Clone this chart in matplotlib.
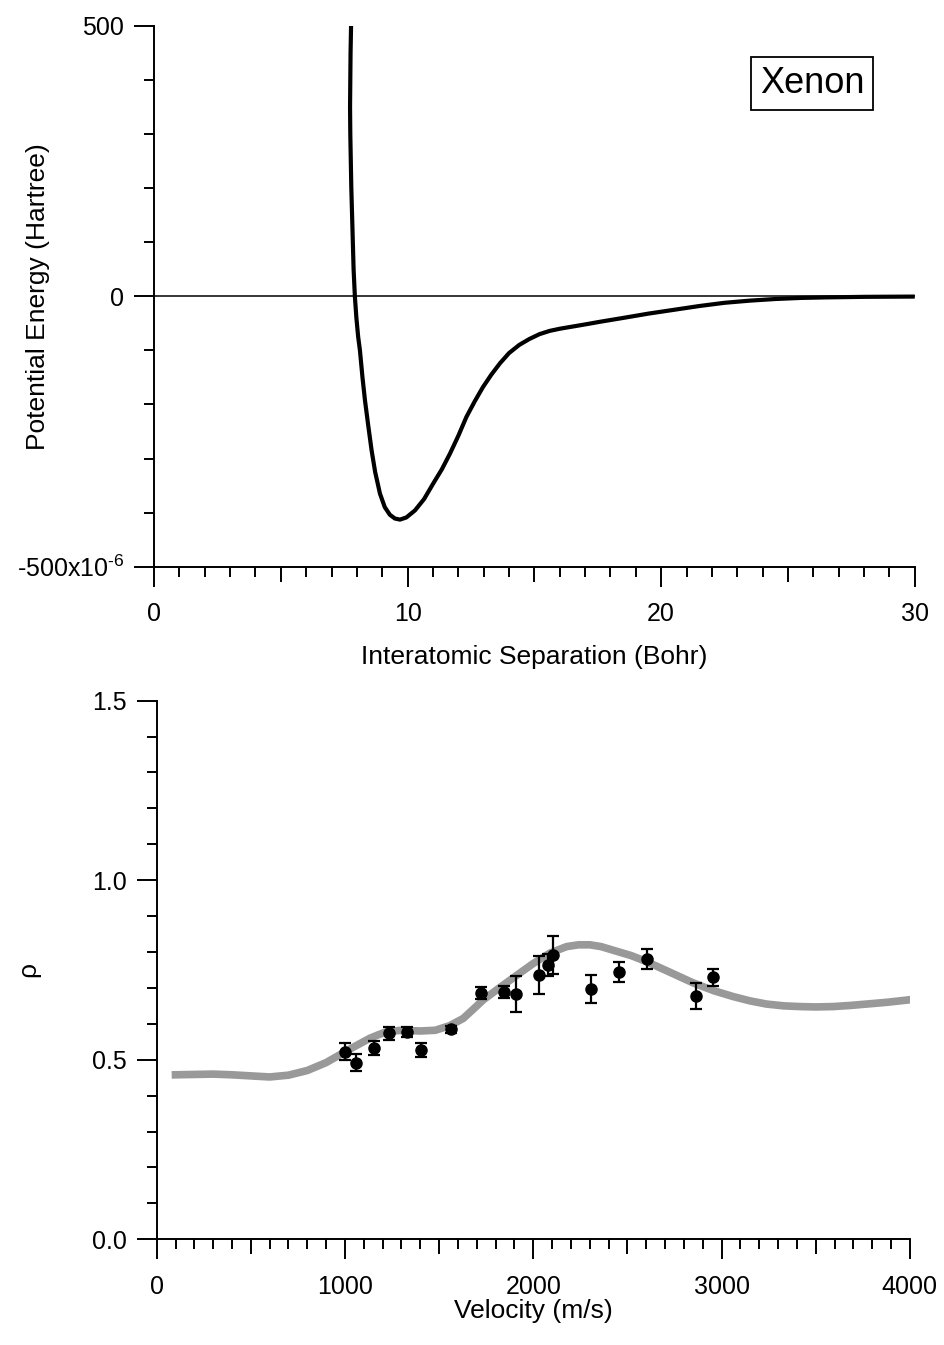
import matplotlib.pyplot as plt
import numpy as np

plt.rcParams['font.family'] = ['Liberation Sans', 'DejaVu Sans']
plt.rcParams['mathtext.fontset'] = 'custom'
plt.rcParams['mathtext.rm'] = 'Liberation Sans'
plt.rcParams['mathtext.it'] = 'Liberation Sans:italic'

# --- top panel: Xe2 potential, energy in micro-Hartree ---
sep_bohr = [7.77, 7.75, 7.74, 7.73, 7.74, 7.76, 7.78, 7.81, 7.84, 7.87, 7.92, 7.98,
            8.05, 8.12, 8.22, 8.32, 8.45, 8.58, 8.72, 8.91, 9.10, 9.30, 9.50, 9.70,
            9.95, 10.29, 10.65, 11.00, 11.35, 11.67, 12.00, 12.32, 12.65, 12.97, 13.30,
            13.64, 14.0, 14.4, 14.8, 15.2, 15.6, 16.0, 16.5, 17.0, 17.6, 18.5, 19.5,
            20.5, 21.5, 22.5, 23.5, 24.5, 25.5, 26.5, 28.0, 30.0]
energy_uH = [500, 450, 400, 350, 300, 250, 200, 150, 100, 50, 0, -40,
             -75, -100, -150, -193, -240, -285, -325, -365, -390, -404, -411, -413,
             -409, -396, -375, -347, -320, -291, -258, -223, -194, -168, -145,
             -124, -105, -90, -79, -70, -64, -60, -56, -52, -47, -40, -32,
             -25, -18, -12, -8, -5, -3, -2, -1, -0.5]

# --- bottom panel: rho vs velocity ---
vel_curve = [100, 200, 300, 400, 500, 600, 700, 800, 900, 1000, 1066, 1133, 1180, 1221,
             1300, 1398, 1480, 1557, 1628, 1680, 1735, 1820, 1912, 2000, 2089, 2177,
             2240, 2301, 2360, 2443, 2520, 2607, 2720, 2849, 2960, 3061, 3150, 3239,
             3330, 3416, 3500, 3592, 3680, 3770, 3880, 4000]
rho_curve = [0.458, 0.459, 0.460, 0.458, 0.455, 0.452, 0.457, 0.470, 0.492, 0.522, 0.541,
             0.560, 0.570, 0.578, 0.582, 0.580, 0.582, 0.595, 0.615, 0.640, 0.667, 0.700,
             0.735, 0.768, 0.797, 0.815, 0.820, 0.820, 0.815, 0.802, 0.790, 0.772, 0.745,
             0.714, 0.692, 0.676, 0.664, 0.655, 0.650, 0.648, 0.647, 0.648, 0.651, 0.655,
             0.660, 0.667]

vel_meas = [1000, 1057, 1154, 1234, 1328, 1402, 1563, 1721, 1844, 1906, 2030, 2076,
            2106, 2306, 2457, 2605, 2864, 2956]
rho_meas = [0.522, 0.492, 0.532, 0.574, 0.577, 0.527, 0.585, 0.685, 0.688, 0.683, 0.736,
            0.764, 0.792, 0.696, 0.744, 0.781, 0.678, 0.729]
rho_err = [0.024, 0.023, 0.020, 0.018, 0.014, 0.020, 0.010, 0.017, 0.016, 0.051, 0.054,
           0.030, 0.053, 0.039, 0.028, 0.027, 0.036, 0.023]

fig = plt.figure(figsize=(9.45, 13.45), dpi=100)
ax1 = fig.add_axes([0.163, 0.5787, 0.805, 0.402])
ax2 = fig.add_axes([0.1658, 0.0786, 0.797, 0.4005])

TW = 1.4
FS_TICK = 18
FS_LAB = 19


def style_axes(ax):
    for s in ('top', 'right'):
        ax.spines[s].set_visible(False)
    for s in ('left', 'bottom'):
        ax.spines[s].set_linewidth(1.4)
    ax.tick_params(which='major', direction='out', length=14.5, width=TW,
                   labelsize=FS_TICK, pad=7)
    ax.tick_params(which='minor', direction='out', length=7.5, width=TW)
    ax.tick_params(axis='x', which='major', pad=11)


# top
ax1.axhline(0, color='black', lw=1.1, zorder=1)
ax1.plot(sep_bohr, energy_uH, color='black', lw=3.0, solid_capstyle='butt', zorder=3)
ax1.set_xlim(0, 30)
ax1.set_ylim(-500, 500)
style_axes(ax1)
ax1.set_xticks([0, 10, 20, 30])
ax1.set_xticks([v for v in range(31) if v % 5 != 0], minor=True)
ax1.set_yticks([-500, 0, 500])
ax1.set_yticklabels([r'-500x10$^{\text{-6}}$', '0', '500'])
ax1.set_yticks([v for v in range(-400, 500, 100) if v != 0], minor=True)
sec1 = ax1.secondary_xaxis('bottom')
sec1.set_xticks([5, 15, 25])
sec1.tick_params(direction='out', length=11, width=TW, labelbottom=False)
sec1.spines['bottom'].set_visible(False)
ax1.set_xlabel('Interatomic Separation (Bohr)', fontsize=FS_LAB)
ax1.set_ylabel('Potential Energy (Hartree)', fontsize=FS_LAB)
ax1.xaxis.set_label_coords(0.5, -0.145)
ax1.yaxis.set_label_coords(-0.137, 0.5)
ax1.text(0.865, 0.893, 'Xenon', transform=ax1.transAxes, fontsize=26,
         ha='center', va='center',
         bbox=dict(boxstyle='square,pad=0.25', fc='white', ec='black', lw=1.3))

# bottom
ax2.plot(vel_curve, rho_curve, color='#999999', lw=5.5, zorder=2)
ax2.errorbar(vel_meas, rho_meas, yerr=rho_err, fmt='o', color='black', ms=8,
             elinewidth=1.6, capsize=4, capthick=1.6, zorder=3)
ax2.set_xlim(0, 4000)
ax2.set_ylim(0, 1.5)
style_axes(ax2)
ax2.set_xticks([0, 1000, 2000, 3000, 4000])
ax2.set_xticks([v for v in range(0, 4001, 100) if v % 500 != 0], minor=True)
ax2.set_yticks([0, 0.5, 1.0, 1.5])
ax2.set_yticklabels(['0.0', '0.5', '1.0', '1.5'])
ax2.set_yticks([v / 10 for v in range(1, 15) if v % 5 != 0], minor=True)
sec2 = ax2.secondary_xaxis('bottom')
sec2.set_xticks([500, 1500, 2500, 3500])
sec2.tick_params(direction='out', length=10.5, width=TW, labelbottom=False)
sec2.spines['bottom'].set_visible(False)
ax2.set_xlabel('Velocity (m/s)', fontsize=FS_LAB)
ax2.set_ylabel('ρ', fontsize=FS_LAB)
ax2.xaxis.set_label_coords(0.5, -0.11)
ax2.yaxis.set_label_coords(-0.155, 0.5)

fig.savefig('out.png', dpi=100)
